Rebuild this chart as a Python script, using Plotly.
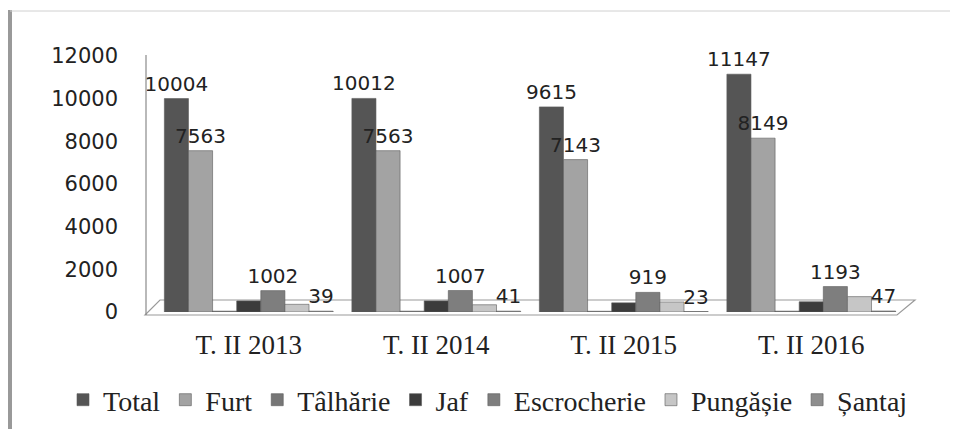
"""
Grouped bar chart: thefts and related offences, Q2 2013-2016.
"""

import plotly.graph_objects as go

# data
periods = ['T. II 2013', 'T. II 2014', 'T. II 2015', 'T. II 2016']
total = [10004, 10012, 9615, 11147]
furt = [7563, 7563, 7143, 8149]
talharie = [40, 40, 35, 40]
jaf = [520, 520, 430, 480]
escrocherie = [1002, 1007, 919, 1193]
pungasie = [360, 340, 470, 720]
santaj = [39, 41, 23, 47]
y_ticks = [0, 2000, 4000, 6000, 8000, 10000, 12000]

# (name, values, colour, show value labels)
series = [
    ('Total', total, '#555555', True),
    ('Furt', furt, '#a3a3a3', True),
    ('Tâlhărie', talharie, '#767676', False),
    ('Jaf', jaf, '#3c3c3c', False),
    ('Escrocherie', escrocherie, '#7e7e7e', True),
    ('Pungășie', pungasie, '#c6c6c6', False),
    ('Șantaj', santaj, '#8e8e8e', True),
]

# the html page has an 8px body margin, so the figure is drawn 8px in
OFF = 8
W, H = 958 - OFF, 429 - OFF

# plot area in page pixels; the paper covers the whole figure
PLOT_L, PLOT_R, PLOT_T, PLOT_B = 155, 905, 56, 312


def px_x(x):
    # page pixel -> paper x
    return (x - OFF) / W


def px_y(y):
    # page pixel -> paper y
    return (H - (y - OFF)) / H


fig = go.Figure()

for name, vals, color, labelled in series:
    fig.add_trace(go.Bar(
        x=periods,
        y=vals,
        name=name,
        marker=dict(color=color, line=dict(color='#5a5a5a', width=0.6)),
        text=[str(v) for v in vals] if labelled else None,
        textposition='outside' if labelled else 'none',
        constraintext='none',
        textfont=dict(family='DejaVu Sans', size=20, color='#222222'),
        cliponaxis=False,
    ))

shapes = [
    # floor of the 3D box
    dict(type='path', xref='paper', yref='paper', layer='below',
         path=(f'M {px_x(145)} {px_y(315)} L {px_x(160)} {px_y(300)} '
               f'L {px_x(915)} {px_y(300)} L {px_x(897)} {px_y(315)} Z'),
         line=dict(color='#9a9a9a', width=1.2), fillcolor='white'),
    # back wall edge
    dict(type='line', xref='paper', yref='paper',
         x0=px_x(146), x1=px_x(146), y0=px_y(55), y1=px_y(315),
         line=dict(color='#8a8a8a', width=1.2)),
    # frame of the picture
    dict(type='line', xref='paper', yref='paper',
         x0=px_x(10), x1=px_x(10), y0=px_y(10), y1=px_y(440),
         line=dict(color='#999999', width=4)),
    dict(type='line', xref='paper', yref='paper',
         x0=px_x(10), x1=px_x(970), y0=px_y(11), y1=px_y(11),
         line=dict(color='#d0d0d0', width=1)),
]

fig.update_layout(
    width=W,
    height=H,
    barmode='group',
    bargap=0.1,
    bargroupgap=0,
    plot_bgcolor='white',
    paper_bgcolor='white',
    margin=dict(t=0, l=0, r=0, b=0),
    shapes=shapes,
    showlegend=True,
    legend=dict(
        orientation='h',
        x=px_x(63), xanchor='left',
        y=px_y(400), yanchor='middle',
        font=dict(family='Liberation Serif', size=28, color='#222222'),
        itemwidth=30,
        tracegroupgap=0,
        traceorder='normal',
    ),
    xaxis=dict(
        domain=[px_x(PLOT_L), px_x(PLOT_R)],
        automargin=False,
        showgrid=False,
        showline=False,
        zeroline=False,
        ticks='',
        ticklabelstandoff=14,
        tickfont=dict(family='Liberation Serif', size=27, color='#222222'),
    ),
    yaxis=dict(
        domain=[px_y(PLOT_B), px_y(PLOT_T)],
        automargin=False,
        range=[0, 12000],
        tickvals=y_ticks,
        tickformat='d',
        showgrid=False,
        showline=False,
        zeroline=False,
        ticks='',
        ticklabelstandoff=36,
        tickfont=dict(family='DejaVu Sans', size=21, color='#222222'),
    ),
)

fig.write_html("out.html")
